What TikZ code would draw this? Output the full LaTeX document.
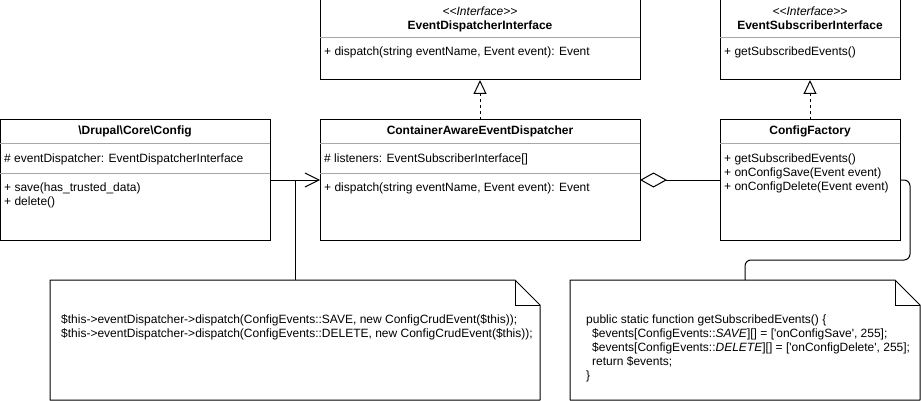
\documentclass[tikz,border=0pt]{standalone}
\usepackage{fontspec}
\setmainfont{Liberation Sans}[Ligatures=TeXOff]
\usetikzlibrary{arrows.meta}
\usetikzlibrary{math}

\newcommand{\umlfont}{\fontsize{12}{14}\selectfont}
\definecolor{sepgray}{HTML}{A6A6A6}

\tikzset{
    classbox/.style={draw=black, line width=1pt, anchor=north west, inner sep=0pt, outer sep=0pt},
    notebox/.style={anchor=north west, inner sep=0pt, outer sep=0pt},
    classtitle/.style={anchor=base, inner sep=0pt, font=\umlfont\bfseries},
    stereo/.style={anchor=base, inner sep=0pt, font=\umlfont\itshape},
    member/.style={anchor=base west, inner sep=0pt, font=\umlfont},
    sepline/.style={sepgray, line width=1pt},
    realize/.style={black, line width=1pt, dash pattern=on 3pt off 3pt,
        -{Triangle[open, length=14pt, width=13pt]}},
    assoc/.style={black, line width=1pt, -{Straight Barb[length=14pt, width=14pt]}},
    aggr/.style={black, line width=1pt, {Diamond[open, length=27pt, width=15pt]}-},
}

\begin{document}
\begin{tikzpicture}[x=1pt, y=-1pt]

% Position settings
\tikzmath{
    \TopRow = 0;
    \MidRow = 120;
    \NoteRow = 280;
    \Fold = 25;
}

\fill [white] (0,0) rectangle (921,401);
\useasboundingbox (0,0) rectangle (921,401);

% Draws interfaces
\node [classbox, minimum width=320, minimum height=80] (edi) at (320,\TopRow) {};
\node [stereo] (edistereo) at ([shift={(0,16)}]edi.north) {<{}<Interface>{}>};
\node [classtitle] (edititle) at ([shift={(0,30)}]edi.north) {EventDispatcherInterface};
\draw [sepline] ([shift={(0,38)}]edi.north west) -- ([shift={(0,38)}]edi.north east);
\node [member] (edim1) at ([shift={(4,56)}]edi.north west) {+ dispatch(string eventName, Event event): Event};

\node [classbox, minimum width=180, minimum height=80] (esi) at (720,\TopRow) {};
\node [stereo] (esistereo) at ([shift={(0,16)}]esi.north) {<{}<Interface>{}>};
\node [classtitle] (esititle) at ([shift={(0,30)}]esi.north) {EventSubscriberInterface};
\draw [sepline] ([shift={(0,38)}]esi.north west) -- ([shift={(0,38)}]esi.north east);
\node [member] (esim1) at ([shift={(4,56)}]esi.north west) {+ getSubscribedEvents()};

% Draws classes
\node [classbox, minimum width=270, minimum height=120] (cfg) at (0,\MidRow) {};
\node [classtitle] (cfgtitle) at ([shift={(0,15)}]cfg.north) {\textbackslash Drupal\textbackslash Core\textbackslash Config};
\draw [sepline] ([shift={(0,24)}]cfg.north west) -- ([shift={(0,24)}]cfg.north east);
\node [member] (cfga1) at ([shift={(4,42)}]cfg.north west) {\# eventDispatcher: EventDispatcherInterface};
\draw [sepline] ([shift={(0,53)}]cfg.north west) -- ([shift={(0,53)}]cfg.north east);
\node [member] (cfgm1) at ([shift={(4,71)}]cfg.north west) {+ save(has\_trusted\_data)};
\node [member] (cfgm2) at ([shift={(4,85)}]cfg.north west) {+ delete()};

\node [classbox, minimum width=320, minimum height=120] (caed) at (320,\MidRow) {};
\node [classtitle] (caedtitle) at ([shift={(0,15)}]caed.north) {ContainerAwareEventDispatcher};
\draw [sepline] ([shift={(0,24)}]caed.north west) -- ([shift={(0,24)}]caed.north east);
\node [member] (caeda1) at ([shift={(4,42)}]caed.north west) {\# listeners: EventSubscriberInterface[]};
\draw [sepline] ([shift={(0,53)}]caed.north west) -- ([shift={(0,53)}]caed.north east);
\node [member] (caedm1) at ([shift={(4,71)}]caed.north west) {+ dispatch(string eventName, Event event): Event};

\node [classbox, minimum width=180, minimum height=120] (cf) at (720,\MidRow) {};
\node [classtitle] (cftitle) at ([shift={(0,15)}]cf.north) {ConfigFactory};
\draw [sepline] ([shift={(0,24)}]cf.north west) -- ([shift={(0,24)}]cf.north east);
\node [member] (cfm1) at ([shift={(4,42)}]cf.north west) {+ getSubscribedEvents()};
\node [member] (cfm2) at ([shift={(4,56)}]cf.north west) {+ onConfigSave(Event event)};
\node [member] (cfm3) at ([shift={(4,70)}]cf.north west) {+ onConfigDelete(Event event)};

% Draws notes
\node [notebox, minimum width=490, minimum height=120] (note1) at (50,\NoteRow) {};
\draw [black, line width=1pt, line join=round] (note1.north west) -- ([shift={(-\Fold,0)}]note1.north east)
    -- ([shift={(0,\Fold)}]note1.north east) -- (note1.south east) -- (note1.south west) -- cycle;
\draw [black, line width=1pt] ([shift={(-\Fold,0)}]note1.north east) -- ([shift={(-\Fold,\Fold)}]note1.north east)
    -- ([shift={(0,\Fold)}]note1.north east);
\node [member] (note1a) at ([shift={(11,43)}]note1.north west) {\$this->eventDispatcher->dispatch(ConfigEvents::SAVE, new ConfigCrudEvent(\$this));};
\node [member] (note1b) at ([shift={(11,57)}]note1.north west) {\$this->eventDispatcher->dispatch(ConfigEvents::DELETE, new ConfigCrudEvent(\$this));};

\node [notebox, minimum width=350, minimum height=120] (note2) at (570,\NoteRow) {};
\draw [black, line width=1pt, line join=round] (note2.north west) -- ([shift={(-\Fold,0)}]note2.north east)
    -- ([shift={(0,\Fold)}]note2.north east) -- (note2.south east) -- (note2.south west) -- cycle;
\draw [black, line width=1pt] ([shift={(-\Fold,0)}]note2.north east) -- ([shift={(-\Fold,\Fold)}]note2.north east)
    -- ([shift={(0,\Fold)}]note2.north east);
\node [member] (note2a) at ([shift={(16,43)}]note2.north west) {public static function getSubscribedEvents() \{};
\node [member] (note2b) at ([shift={(22,57)}]note2.north west) {\$events[ConfigEvents::\textit{SAVE}][] = ['onConfigSave', 255];};
\node [member] (note2c) at ([shift={(22,71)}]note2.north west) {\$events[ConfigEvents::\textit{DELETE}][] = ['onConfigDelete', 255];};
\node [member] (note2d) at ([shift={(22,85)}]note2.north west) {return \$events;};
\node [member] (note2e) at ([shift={(16,99)}]note2.north west) {\}};

% Draws connectors
\draw [realize] (caed.north) -- (edi.south);
\draw [realize] (cf.north) -- (esi.south);
\draw [assoc] (cfg.east) -- (caed.west);
\draw [aggr] (caed.east) -- (cf.west);
\draw [black, line width=1pt] (note1.north) -- (note1.north |- cfg.east);
\draw [black, line width=1pt, rounded corners=6pt] (cf.east) -- ++(10,0) -- ++(0,80) -| (note2.north);

\end{tikzpicture}
\end{document}
